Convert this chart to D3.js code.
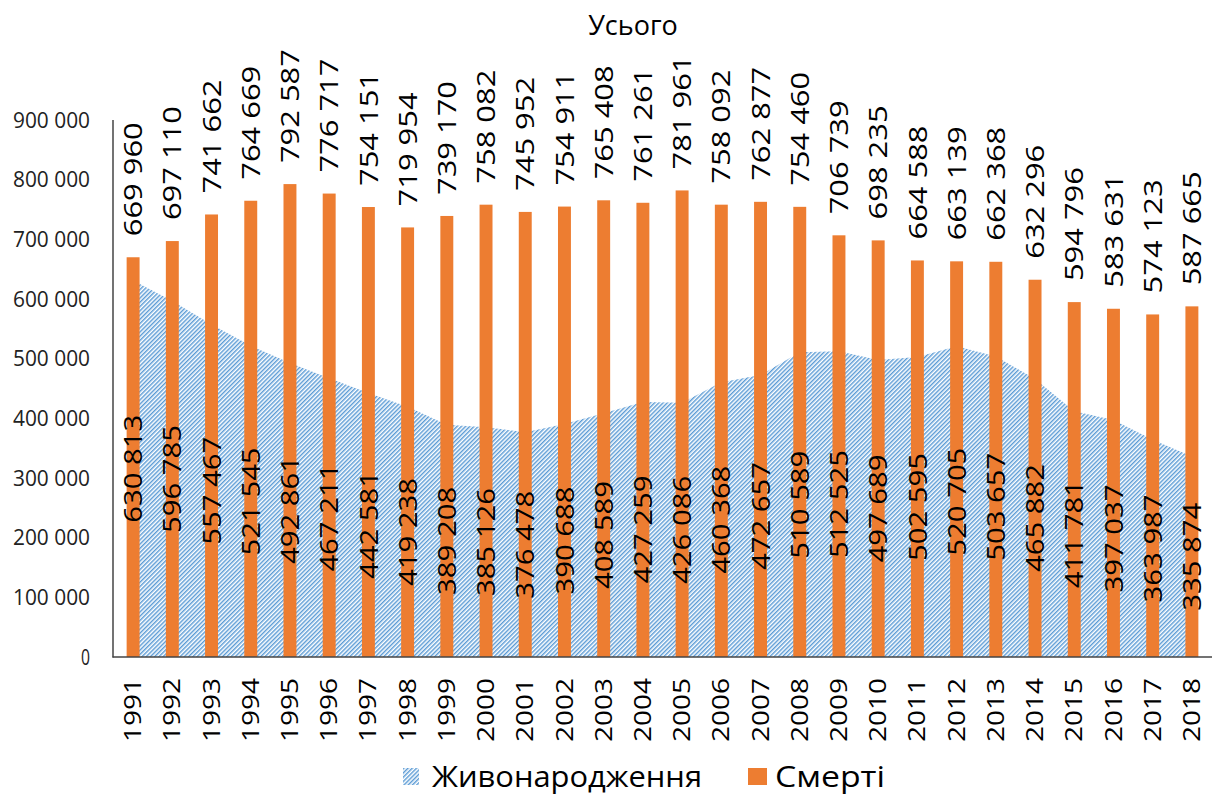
<!DOCTYPE html>
<html><head><meta charset="utf-8">
<script src="https://cdn.jsdelivr.net/npm/d3@7"></script>
<style>body{margin:0;background:#fff}svg{display:block}</style>
</head><body>
<svg id="c" width="1214" height="798"></svg>
<script>
const years = [1991,1992,1993,1994,1995,1996,1997,1998,1999,2000,2001,2002,2003,2004,2005,2006,2007,2008,2009,2010,2011,2012,2013,2014,2015,2016,2017,2018];
const births = [630813,596785,557467,521545,492861,467211,442581,419238,389208,385126,376478,390688,408589,427259,426086,460368,472657,510589,512525,497689,502595,520705,503657,465882,411781,397037,363987,335874];
const deaths = [669960,697110,741662,764669,792587,776717,754151,719954,739170,758082,745952,754911,765408,761261,781961,758092,762877,754460,706739,698235,664588,663139,662368,632296,594796,583631,574123,587665];
const yTicks = [0,100000,200000,300000,400000,500000,600000,700000,800000,900000];
const title = "Усього";
const seriesNames = ["Живонародження","Смерті"];

const FONT = "'Open Sans', sans-serif";
const ORANGE = "#ED7D31", BLUE = "#5B9BD5";
const svg = d3.select("#c");
const fmt = v => d3.format(",")(v).replace(/,/g, " ");

const x = d3.scaleBand().domain(years).range([113.5, 1211.5]).paddingInner(0).paddingOuter(0);
const y = d3.scaleLinear().domain([0, 900000]).range([657, 120]);
const cx = d => x(d) + x.bandwidth() / 2;
const barW = x.bandwidth() * 0.33;

// diagonal "/" hatch pattern
const defs = svg.append("defs");
const pat = defs.append("pattern").attr("id", "hatch").attr("patternUnits", "userSpaceOnUse")
  .attr("width", 3).attr("height", 3).attr("patternTransform", "rotate(45)");
pat.append("rect").attr("width", 3).attr("height", 3).attr("fill", "#fff");
pat.append("rect").attr("width", 1.45).attr("height", 3).attr("fill", BLUE);

// title
svg.append("text").attr("x", 633).attr("y", 35).attr("text-anchor", "middle")
  .attr("font-family", FONT).attr("font-size", 27).attr("fill", "#000").text(title);

// y tick labels
svg.append("g").selectAll("text").data(yTicks).join("text")
  .attr("x", 90).attr("y", d => y(d)).attr("dy", "0.35em").attr("text-anchor", "end")
  .attr("font-family", FONT).attr("font-size", 22).attr("fill", "#222")
  .attr("textLength", d => d === 0 ? 9 : 77).attr("lengthAdjust", "spacingAndGlyphs")
  .text(d => fmt(d));

// area
const area = d3.area().x((d, i) => cx(years[i])).y0(y(0)).y1(d => y(d));
svg.append("path").datum(births).attr("d", area).attr("fill", "url(#hatch)");

// bars
svg.append("g").selectAll("rect").data(deaths).join("rect")
  .attr("x", (d, i) => cx(years[i]) - barW / 2).attr("width", barW)
  .attr("y", d => y(d)).attr("height", d => y(0) - y(d)).attr("fill", ORANGE);

// axes lines
svg.append("line").attr("x1", 113).attr("x2", 113).attr("y1", 120).attr("y2", 657.5).attr("stroke", "#444").attr("stroke-width", 1.5);
svg.append("line").attr("x1", 112.5).attr("x2", 1212).attr("y1", 657).attr("y2", 657).attr("stroke", "#444").attr("stroke-width", 1.5);

// bar labels
svg.append("g").selectAll("text").data(deaths).join("text")
  .attr("transform", (d, i) => `translate(${cx(years[i])},${y(d) - 21}) rotate(-90)`)
  .attr("dy", "0.35em").attr("text-anchor", "start")
  .attr("font-family", FONT).attr("font-size", 26).attr("fill", "#000")
  .attr("textLength", 114).attr("lengthAdjust", "spacingAndGlyphs")
  .text(d => fmt(d));

// area labels
svg.append("g").selectAll("text").data(births).join("text")
  .attr("transform", (d, i) => `translate(${cx(years[i])},${y(d / 2)}) rotate(-90)`)
  .attr("dy", "0.35em").attr("text-anchor", "middle")
  .attr("font-family", FONT).attr("font-size", 26).attr("fill", "#000")
  .attr("textLength", 108).attr("lengthAdjust", "spacingAndGlyphs")
  .text(d => fmt(d));

// year labels
svg.append("g").selectAll("text").data(years).join("text")
  .attr("transform", d => `translate(${cx(d)},678) rotate(-90)`)
  .attr("dy", "0.35em").attr("text-anchor", "end")
  .attr("font-family", FONT).attr("font-size", 23).attr("fill", "#000")
  .attr("textLength", 64).attr("lengthAdjust", "spacingAndGlyphs")
  .text(d => d);

// legend
const lg = svg.append("g");
lg.append("rect").attr("x", 403).attr("y", 768).attr("width", 16).attr("height", 17).attr("fill", "url(#hatch)");
lg.append("text").attr("x", 432).attr("y", 787).attr("font-family", FONT).attr("font-size", 30).attr("fill", "#000")
  .attr("textLength", 270).attr("lengthAdjust", "spacingAndGlyphs").text(seriesNames[0]);
lg.append("rect").attr("x", 748).attr("y", 768).attr("width", 19).attr("height", 17).attr("fill", ORANGE);
lg.append("text").attr("x", 775).attr("y", 787).attr("font-family", FONT).attr("font-size", 30).attr("fill", "#000")
  .attr("textLength", 110).attr("lengthAdjust", "spacingAndGlyphs").text(seriesNames[1]);
</script>
</body></html>
